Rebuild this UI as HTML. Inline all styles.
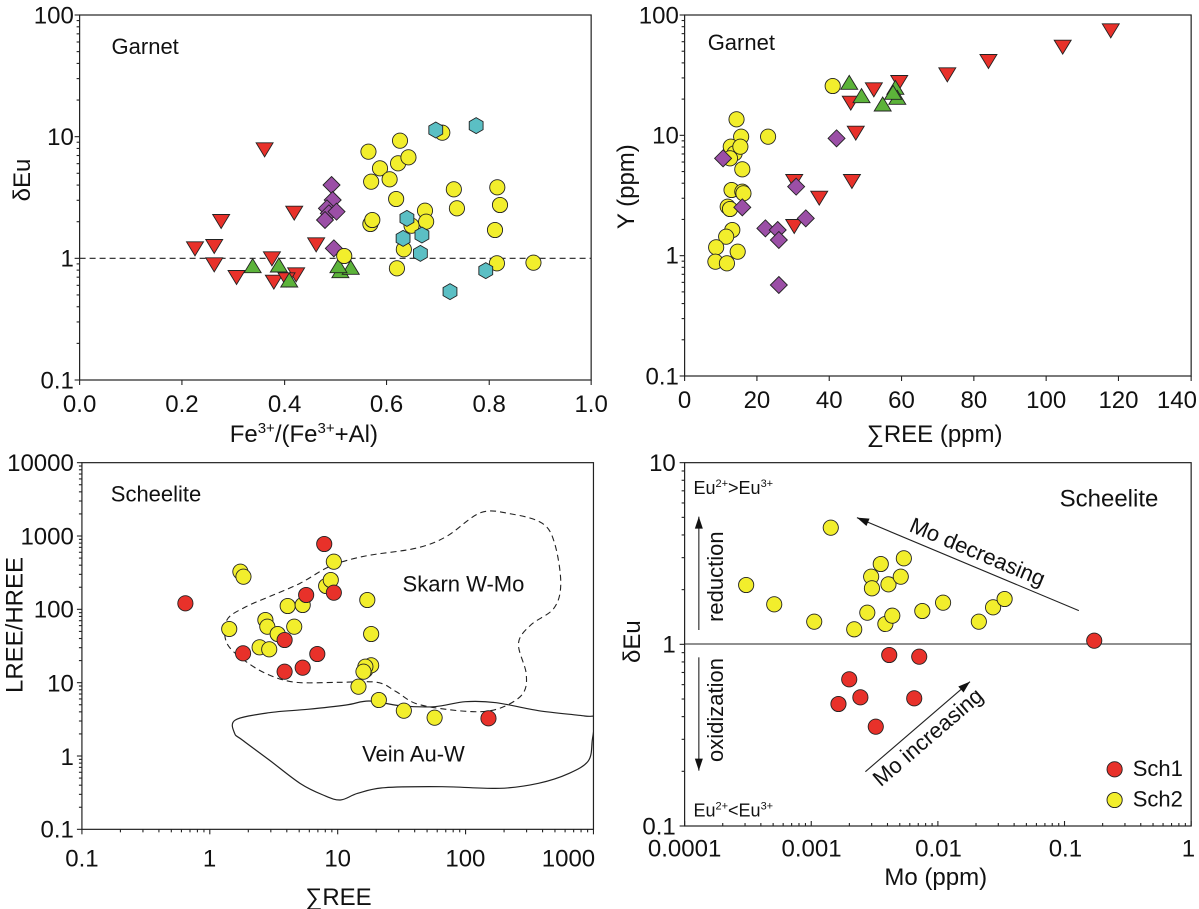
<!DOCTYPE html>
<html><head><meta charset="utf-8"><style>html,body{margin:0;padding:0;background:#fff;overflow:hidden}svg{display:block}text{font-family:"Liberation Sans",Arial,sans-serif;fill:#111}</style></head>
<body>
<svg id="s" width="1199" height="909" viewBox="0 0 1199 909" xmlns="http://www.w3.org/2000/svg"><defs><clipPath id="c3"><rect x="82" y="462" width="511" height="428"/></clipPath></defs></svg>
<script>
const NS="http://www.w3.org/2000/svg";
const S=document.getElementById("s");
let OX=0,OY=0;const SX=1/2.6,SY=1/3;
const X=x=>OX+x*SX, Y=y=>OY+y*SY;
function el(t,a,txt){const e=document.createElementNS(NS,t);for(const k in a)e.setAttribute(k,a[k]);if(txt!==undefined)e.textContent=txt;S.appendChild(e);return e;}
const C={r:"#e8312a",y:"#f2ee2c",g:"#5cb33a",p:"#9b4fa6",c:"#5bbfc4"};
const SW=0.9,R=7.6;
function circ(x,y,c){el("circle",{cx:X(x),cy:Y(y),r:R,fill:c,stroke:"#222","stroke-width":SW});}
function dtri(x,y){x=X(x);y=Y(y);el("polygon",{points:`${x-8.5},${y-5.5} ${x+8.5},${y-5.5} ${x},${y+8.5}`,fill:C.r,stroke:"#222","stroke-width":SW});}
function utri(x,y){x=X(x);y=Y(y);el("polygon",{points:`${x-8.5},${y+6} ${x+8.5},${y+6} ${x},${y-8}`,fill:C.g,stroke:"#222","stroke-width":SW});}
function dia(x,y){x=X(x);y=Y(y);el("polygon",{points:`${x},${y-8.5} ${x+8.5},${y} ${x},${y+8.5} ${x-8.5},${y}`,fill:C.p,stroke:"#222","stroke-width":SW});}
function hex(x,y){x=X(x);y=Y(y);let p=[];for(let i=0;i<6;i++){const a=Math.PI/3*i+Math.PI/6;p.push((x+8*Math.cos(a))+","+(y+8*Math.sin(a)));}el("polygon",{points:p.join(" "),fill:C.c,stroke:"#222","stroke-width":SW});}
function frame(x,y,w,h){el("rect",{x:X(x),y:Y(y),width:w*SX,height:h*SY,fill:"none",stroke:"#222","stroke-width":1.2});}
function ln(x1,y1,x2,y2,extra){const a={x1,y1,x2,y2,stroke:"#222","stroke-width":1.1};Object.assign(a,extra||{});return el("line",a);}
function logY(x0,top,bot,n,out){x0=X(x0);top=Y(top);bot=Y(bot);const d=(bot-top)/n;for(let k=0;k<n;k++){const b=bot-k*d;for(let m=1;m<10;m++){const y=b-Math.log10(m)*d;const L=m==1?5:3;ln(x0,y,out?x0-L:x0+L,y);}}ln(x0,top,out?x0-5:x0+5,top);}
function logX(y0,l,r,n,out){y0=Y(y0);l=X(l);r=X(r);const d=(r-l)/n;for(let k=0;k<n;k++){const b=l+k*d;for(let m=1;m<10;m++){const x=b+Math.log10(m)*d;const L=m==1?5:3;ln(x,y0,x,out?y0+L:y0-L);}}ln(r,y0,r,out?y0+5:y0-5);}
function linX(y0,xs){xs.forEach(x=>ln(X(x),Y(y0),X(x),Y(y0)+5));}
function tl(x,y,s,anchor,size){return el("text",{x:X(x),y:Y(y),"font-size":size,"text-anchor":anchor||"middle"},s);}
function rot(x,y,s,ang,size){return el("text",{x:0,y:0,"font-size":size,"text-anchor":"middle","dominant-baseline":"middle",transform:`translate(${X(x)},${Y(y)}) rotate(${ang})`},s);}
const TS=24,AS=24,LS=22;

// Panel 1
OX=0;OY=0;
frame(207,45,1330,1095);
logY(207,45,1140,3,true);
let xs=[207,473,740,1005,1272,1537];linX(1140,xs);
["0.0","0.2","0.4","0.6","0.8","1.0"].forEach((s,i)=>tl(xs[i],1236,s,"middle",TS));
[["100",45],["10",410],["1",775],["0.1",1140]].forEach(a=>tl(192,a[1]+25,a[0],"end",TS));
ln(X(207),Y(775),X(1537),Y(775),{"stroke-dasharray":"6 4"});
tl(290,162,"Garnet","start",LS);
rot(62,540,"δEu",-90,AS);
[[688,445],[575,660],[765,635],[507,742],[557,735],[557,790],[615,828],[707,772],[712,842],[770,820],[822,730],[745,835]].forEach(p=>dtri(...p));
[[657,800],[725,798],[752,843],[885,815],[912,805],[880,800]].forEach(p=>utri(...p));
[[862,555],[865,600],[850,625],[855,640],[875,635],[845,660],[868,745]].forEach(p=>dia(...p));
[[958,455],[965,545],[988,505],[1013,538],[1040,422],[1035,490],[1062,472],[1030,597],[963,672],[968,660],[1070,677],[1105,632],[1108,665],[1050,748],[895,768],[1032,805],[1150,398],[1180,568],[1188,625],[1293,562],[1300,615],[1287,690],[1292,790],[1387,788]].forEach(p=>circ(p[0],p[1],C.y));
[[1133,390],[1238,377],[1058,655],[1048,715],[1097,705],[1093,760],[1263,812],[1170,875]].forEach(p=>hex(...p));
el("text",{x:X(790),y:442,"font-size":AS,"text-anchor":"middle"}).innerHTML='Fe<tspan dy="-9" font-size="15">3+</tspan><tspan dy="9">/(Fe</tspan><tspan dy="-9" font-size="15">3+</tspan><tspan dy="9">+Al)</tspan>';

// Panel 2
OX=600;OY=0;
frame(220,45,1317,1083);
logY(220,45,1128,3,true);
xs=[220,408,596,784,972,1160,1348,1537];linX(1128,xs);
["0","20","40","60","80","100","120","140"].forEach((s,i)=>tl(i==7?1500:xs[i],1224,s,"middle",TS));
[["100",45],["10",405],["1",766],["0.1",1128]].forEach(a=>tl(205,a[1]+25,a[0],"end",TS));
tl(280,150,"Garnet","start",LS);
rot(72,560,"Y (ppm)",-90,AS);
el("text",{x:X(870),y:442,"font-size":AS,"text-anchor":"middle"},"∑REE (ppm)");
[[1328,88],[1203,137],[1010,180],[903,220],[778,243],[712,265],[652,305],[665,395],[655,540],[570,590],[505,540],[505,675]].forEach(p=>dtri(...p));
[[648,250],[680,290],[735,315],[768,265],[773,295],[762,280]].forEach(p=>utri(...p));
[[605,258],[355,358],[437,410],[367,410],[340,440],[350,460],[365,440],[338,475],[370,508],[342,570],[370,575],[373,580],[332,620],[338,627],[344,690],[328,710],[302,742],[358,755],[300,785],[330,790]].forEach(p=>circ(p[0],p[1],C.y));
[[320,475],[370,622],[615,415],[510,560],[535,655],[430,685],[462,690],[465,720],[465,855]].forEach(p=>dia(...p));

// Panel 3
OX=0;OY=440;
function smooth(pts,closed){
 const P=pts.map(p=>[X(p[0]),Y(p[1])]);const n=P.length;let s=`M${P[0][0]},${P[0][1]}`;
 for(let i=0;i<(closed?n:n-1);i++){const p0=P[(i-1+n)%n],p1=P[i],p2=P[(i+1)%n],p3=P[(i+2)%n];
  s+=` C${p1[0]+(p2[0]-p0[0])/6},${p1[1]+(p2[1]-p0[1])/6} ${p2[0]-(p3[0]-p1[0])/6},${p2[1]-(p3[1]-p1[1])/6} ${p2[0]},${p2[1]}`;}
 return s+(closed?"Z":"");}
el("path",{d:smooth([[640,665],[590,610],[590,540],[640,500],[700,470],[780,430],[860,378],[950,348],[1080,325],[1160,290],[1250,218],[1330,222],[1410,250],[1442,310],[1458,430],[1440,505],[1380,555],[1348,610],[1368,700],[1360,760],[1310,800],[1250,815],[1160,808],[1080,790],[1030,755],[980,727],[880,727],[770,727],[700,705]],true),fill:"none",stroke:"#222","stroke-width":1.1,"stroke-dasharray":"6 4"});
el("path",{"clip-path":"url(#c3)",d:smooth([[610,880],[612,840],[700,818],[800,808],[900,795],[960,783],[1040,797],[1130,800],[1210,785],[1290,788],[1400,812],[1520,828],[1545,835],[1540,900],[1530,962],[1480,1000],[1400,1030],[1300,1045],[1150,1040],[1000,1043],[930,1060],[885,1080],[840,1065],[780,1030],[700,960],[630,900]],true),fill:"none",stroke:"#222","stroke-width":1.2});
frame(213,68,1330,1100);
logY(213,68,1168,5,true);
logX(1168,213,1543,4,true);
[["10000",68],["1000",288],["100",508],["10",730],["1",950],["0.1",1168]].forEach(a=>tl(192,a[1]+25,a[0],"end",TS));
[["0.1",213],["1",545],["10",878],["100",1210],["1000",1478]].forEach(a=>tl(a[1],1280,a[0],"middle",TS));
tl(288,185,"Scheelite","start",LS);
tl(1205,455,"Skarn W-Mo","middle",LS);
tl(1075,965,"Vein Au-W","middle",LS);
tl(880,1395,"∑REE","middle",AS);
rot(42,555,"LREE/HREE",-90,AS);
[[596,567],[625,395],[633,410],[690,540],[695,560],[675,622],[700,628],[722,582],[748,498],[765,560],[787,495],[848,438],[860,420],[868,365],[955,480],[965,582],[950,690],[965,676],[950,680],[945,695],[932,740],[985,780],[1050,812],[1130,833]].forEach(p=>circ(p[0],p[1],C.y));
[[482,490],[632,640],[740,695],[740,600],[787,683],[825,642],[796,465],[843,312],[868,458],[1270,835]].forEach(p=>circ(p[0],p[1],C.r));

// Panel 4
OX=600;OY=440;
frame(220,68,1317,1090);
logY(220,68,1158,2,true);
logX(1158,220,1537,4,false);
[["10",68],["1",612],["0.1",1158]].forEach(a=>tl(197,a[1]+25,a[0],"end",TS));
[["0.0001",220],["0.001",550],["0.01",880],["0.1",1210],["1",1530]].forEach(a=>tl(a[1],1250,a[0],"middle",TS));
ln(X(220),Y(612),X(1537),Y(612));
el("text",{x:X(243),y:Y(162),"font-size":18}).innerHTML='Eu<tspan dy="-7" font-size="11">2+</tspan><tspan dy="7">&gt;Eu</tspan><tspan dy="-7" font-size="11">3+</tspan>';
el("text",{x:X(243),y:Y(1130),"font-size":18}).innerHTML='Eu<tspan dy="-7" font-size="11">2+</tspan><tspan dy="7">&lt;Eu</tspan><tspan dy="-7" font-size="11">3+</tspan>';
tl(1195,200,"Scheelite","start",24);
function arrow(x1,y1,x2,y2){x1=X(x1);y1=Y(y1);x2=X(x2);y2=Y(y2);ln(x1,y1,x2,y2);const a=Math.atan2(y2-y1,x2-x1),L=12,W=4;const bx=x2-L*Math.cos(a),by=y2-L*Math.sin(a);el("polygon",{points:`${x2},${y2} ${bx+W*Math.sin(a)},${by-W*Math.cos(a)} ${bx-W*Math.sin(a)},${by+W*Math.cos(a)}`,fill:"#111"});}
arrow(257,570,257,230);arrow(257,652,257,992);
arrow(1245,512,668,233);arrow(690,995,962,725);
rot(305,410,"reduction",-90,LS);
rot(305,810,"oxidization",-90,LS);
rot(980,340,"Mo decreasing",22.7,LS);
rot(855,895,"Mo increasing",-40.7,LS);
tl(873,1335,"Mo (ppm)","middle",AS);
rot(88,605,"δEu",-90,AS);
[[600,263],[380,435],[453,493],[557,545],[661,568],[695,518],[742,552],[760,527],[705,410],[707,445],[730,372],[750,433],[782,410],[790,355],[838,513],[892,488],[985,545],[1022,502],[1052,477]].forEach(p=>circ(p[0],p[1],C.y));
[[1285,602],[752,645],[830,650],[648,718],[677,772],[620,792],[817,775],[717,860]].forEach(p=>circ(p[0],p[1],C.r));
circ(1338,988,C.r);circ(1338,1080,C.y);
tl(1385,1008,"Sch1","start",LS);tl(1385,1100,"Sch2","start",LS);
</script>
</body></html>
